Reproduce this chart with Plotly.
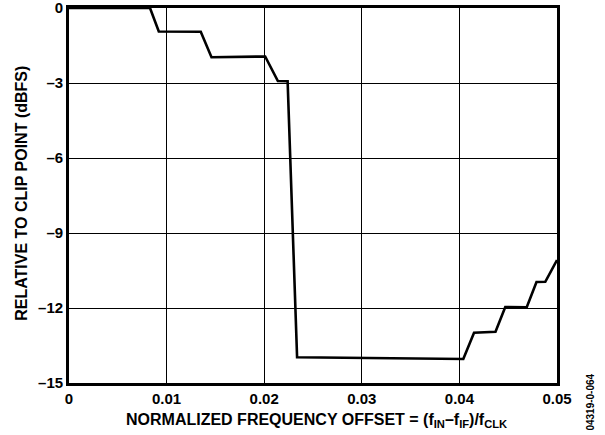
import plotly.graph_objects as go

freq_offset = [0.0, 0.0083, 0.0092, 0.0135, 0.0146, 0.0201, 0.0214, 0.0224,
               0.02337, 0.0404, 0.0415, 0.0437, 0.0447, 0.0469, 0.0479, 0.0488, 0.05]
rel_clip_dbfs = [0.0, 0.0, -0.94, -0.95, -1.97, -1.94, -2.92, -2.93,
                 -13.97, -14.04, -12.99, -12.95, -11.96, -11.97, -10.96, -10.95, -10.08]

x_ticks = [0, 0.01, 0.02, 0.03, 0.04, 0.05]
x_tick_labels = ["0", "0.01", "0.02", "0.03", "0.04", "0.05"]
y_ticks = [0, -3, -6, -9, -12, -15]
y_tick_labels = ["0", "–3", "–6", "–9", "–12", "–15"]

FONT = "Liberation Sans, Arial, sans-serif"

fig = go.Figure()
fig.add_trace(go.Scatter(x=freq_offset, y=rel_clip_dbfs, mode="lines",
                         line=dict(color="black", width=2.6), showlegend=False,
                         hoverinfo="skip"))

fig.update_layout(
    width=605, height=435,
    margin=dict(l=69, r=48, t=8, b=52),
    paper_bgcolor="white", plot_bgcolor="white",
    font=dict(family=FONT, size=15, color="black"),
    xaxis=dict(range=[0, 0.05], tickvals=x_ticks,
               ticktext=["<b>%s</b>" % t for t in x_tick_labels],
               showgrid=True, gridcolor="black", gridwidth=1,
               showline=True, linecolor="black", linewidth=2.8, mirror=True,
               ticks="", zeroline=False, automargin=False, fixedrange=True,
               ticklabeloverflow="allow",
               tickfont=dict(family=FONT, size=15, color="black")),
    yaxis=dict(range=[-15, 0], tickvals=y_ticks,
               ticktext=["<b>%s</b>" % t for t in y_tick_labels],
               showgrid=True, gridcolor="black", gridwidth=1,
               showline=True, linecolor="black", linewidth=2.8, mirror=True,
               ticks="", zeroline=False, automargin=False, fixedrange=True,
               ticklabeloverflow="allow",
               tickfont=dict(family=FONT, size=15, color="black")),
    annotations=[
        dict(text="<b>NORMALIZED FREQUENCY OFFSET = (f<sub>IN</sub>–f<sub>IF</sub>)/f<sub>CLK</sub></b>",
             xref="paper", yref="paper", x=0.507, y=-0.101, xanchor="center", yanchor="middle",
             showarrow=False, font=dict(family=FONT, size=16, color="black")),
        dict(text="<b>RELATIVE TO CLIP POINT (dBFS)</b>",
             xref="paper", yref="paper", x=-0.098, y=0.505, xanchor="center", yanchor="middle",
             textangle=-90, showarrow=False, font=dict(family=FONT, size=16, color="black")),
        dict(text="<b>04319-0-064</b>",
             xref="paper", yref="paper", x=1.0686, y=-0.051, xanchor="center", yanchor="middle",
             textangle=-90, showarrow=False, font=dict(family=FONT, size=10, color="black")),
    ],
)

fig.write_html("out.html", post_script="document.body.style.margin='0';",
               config={"displayModeBar": False})
